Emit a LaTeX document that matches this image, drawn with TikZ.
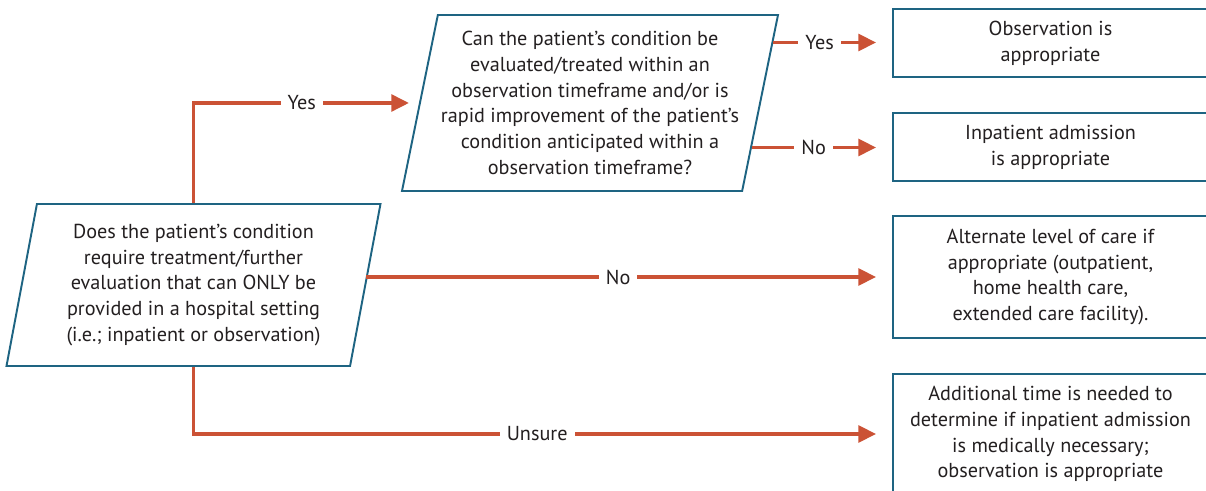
\documentclass[tikz,border=0pt]{standalone}
\usepackage{fontspec}
\setmainfont{PT Sans}
\usepackage{xcolor}
\definecolor{flowred}{RGB}{203,82,53}
\definecolor{boxblue}{RGB}{30,100,130}
\definecolor{textgray}{RGB}{35,31,32}
\usepackage{tikz}
\usetikzlibrary{shapes.geometric,arrows.meta,positioning,calc}

\begin{document}
\begin{tikzpicture}[node distance=2cm,
    font=\fontsize{11.5}{14.7}\selectfont, text=textgray,
    decision/.style={trapezium, trapezium left angle=76, trapezium right angle=104, trapezium stretches body, draw=boxblue, line width=1.1pt, align=center, inner sep=0pt},
    result/.style={rectangle, draw=boxblue, line width=1.1pt, minimum width=6.3cm, align=center, inner sep=0pt},
    line/.style={draw=flowred, line width=2pt, -{Triangle[length=10pt,width=9.5pt]}, shorten >=0.32cm},
    answer/.style={fill=white, inner xsep=4pt, inner ysep=1pt, text=textgray}]

    \useasboundingbox (0,0) rectangle (24.12,9.82);

    % Questions
    \node [decision, minimum width=7.48cm, minimum height=3.24cm] (need) at (3.87,4.12) {Does the patient’s condition\\ require treatment/further\\ evaluation that can ONLY be\\ provided in a hospital setting\\ (i.e.; inpatient or observation)};
    \node [decision, minimum width=7.52cm, minimum height=3.52cm, right of=need, xshift=5.93cm, yshift=3.64cm] (obstime) {Can the patient’s condition be\\ evaluated/treated within an\\ observation timeframe and/or is\\ rapid improvement of the patient’s\\ condition anticipated within a\\ observation timeframe?};

    % Outcomes
    \node [result, minimum height=1.36cm, right of=obstime, xshift=7.21cm, yshift=1.2cm] (obs) {Observation is\\ appropriate};
    \node [result, minimum height=1.36cm, below of=obs, yshift=-0.08cm] (inp) {Inpatient admission\\ is appropriate};
    \node [result, minimum height=2.44cm, right of=need, xshift=15.14cm, yshift=0.16cm] (alt) {Alternate level of care if\\ appropriate (outpatient,\\ home health care,\\ extended care facility).};
    \node [result, minimum height=2.4cm, below of=alt, yshift=-1.14cm] (add) {Additional time is needed to\\ determine if inpatient admission\\ is medically necessary;\\ observation is appropriate};

    % Exit points on the slanted side
    \coordinate (yesout) at ($(obstime.top right corner)!0.16!(obstime.bottom right corner)$);
    \coordinate (noout) at ($(obstime.top right corner)!0.75!(obstime.bottom right corner)$);

    % Connections
    \path [line, shorten >=0.2cm] (need.north) |- node [answer, pos=0.74] {Yes} (obstime);
    \path [line] (need.east |- alt) -- node [answer, pos=0.479] {No} (alt);
    \path [line] (need.south) |- node [answer, pos=0.746] {Unsure} (add);
    \path [line] (yesout) -- node [answer, pos=0.39] {Yes} (yesout -| obs.west);
    \path [line] (noout) -- node [answer, pos=0.44] {No} (noout -| inp.west);
\end{tikzpicture}
\end{document}
